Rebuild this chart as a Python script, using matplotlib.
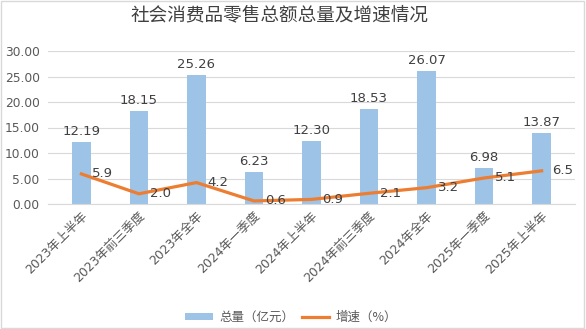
import numpy as np
import matplotlib.pyplot as plt
from matplotlib.patches import Rectangle

plt.rcParams['font.family'] = ['DejaVu Sans', 'Noto Sans CJK SC']

# 数据
categories = ["2023年上半年", "2023年前三季度", "2023年全年", "2024年一季度", "2024年上半年",
              "2024年前三季度", "2024年全年", "2025年一季度", "2025年上半年"]
total = [12.19, 18.15, 25.26, 6.23, 12.30, 18.53, 26.07, 6.98, 13.87]
growth = [5.9, 2.0, 4.2, 0.6, 0.9, 2.1, 3.2, 5.1, 6.5]

bar_color = "#9DC3E6"
line_color = "#ED7D31"
text_color = "#595959"

fig = plt.figure(figsize=(5.86, 3.29), dpi=100)
ax = fig.add_axes([48 / 586, 1 - 204 / 329, 527 / 586, 153 / 329])

x = np.arange(len(categories))
bars = ax.bar(x, total, width=0.32, color=bar_color, zorder=2)
line, = ax.plot(x, growth, color=line_color, linewidth=2.3, zorder=3)

# 数据标签
for xi, v in zip(x, total):
    ax.text(xi, v + 0.8, f"{v:.2f}", ha="center", va="bottom", fontsize=9.5, color="#404040")
for xi, v in zip(x, growth):
    ax.text(xi + 0.19, v, f"{v:.1f}", ha="left", va="center", fontsize=9.5, color="#404040", zorder=4)

ax.set_xlim(-0.58, len(categories) - 0.42)
ax.set_ylim(0, 30)
ax.set_yticks(np.arange(0, 31, 5))
ax.set_yticklabels([f"{t:.2f}" for t in np.arange(0, 31, 5)], fontsize=8.8, color=text_color)
ax.set_xticks(x)
ax.set_xticklabels(categories, rotation=45, ha="right", rotation_mode="anchor",
                   fontsize=9, color=text_color)
ax.tick_params(axis="both", length=0, pad=6)
ax.tick_params(axis="x", pad=4)
ax.grid(axis="y", color="#D9D9D9", linewidth=0.8, zorder=0)
for s in ["top", "right", "left"]:
    ax.spines[s].set_visible(False)
ax.spines["bottom"].set_color("#D9D9D9")

fig.text(279 / 586, 1 - 15 / 329, "社会消费品零售总额总量及增速情况", ha="center", va="center",
         fontsize=13.4, color="#404040", family=['Noto Sans CJK SC'])

fig.legend([bars, line], ["总量（亿元）", "增速（%）"], loc="center",
           bbox_to_anchor=(291 / 586, 1 - 317 / 329), ncol=2, frameon=False,
           prop={'family': ['Noto Sans CJK SC'], 'size': 9}, labelcolor=text_color,
           handlelength=2.2, handleheight=0.5, columnspacing=0.6, handletextpad=0.5)

# 外框
fig.patches.append(Rectangle((0.002, 0.003), 0.995, 0.993, transform=fig.transFigure,
                             fill=False, edgecolor="#D9D9D9", linewidth=1))

fig.savefig("out.png", dpi=100)
